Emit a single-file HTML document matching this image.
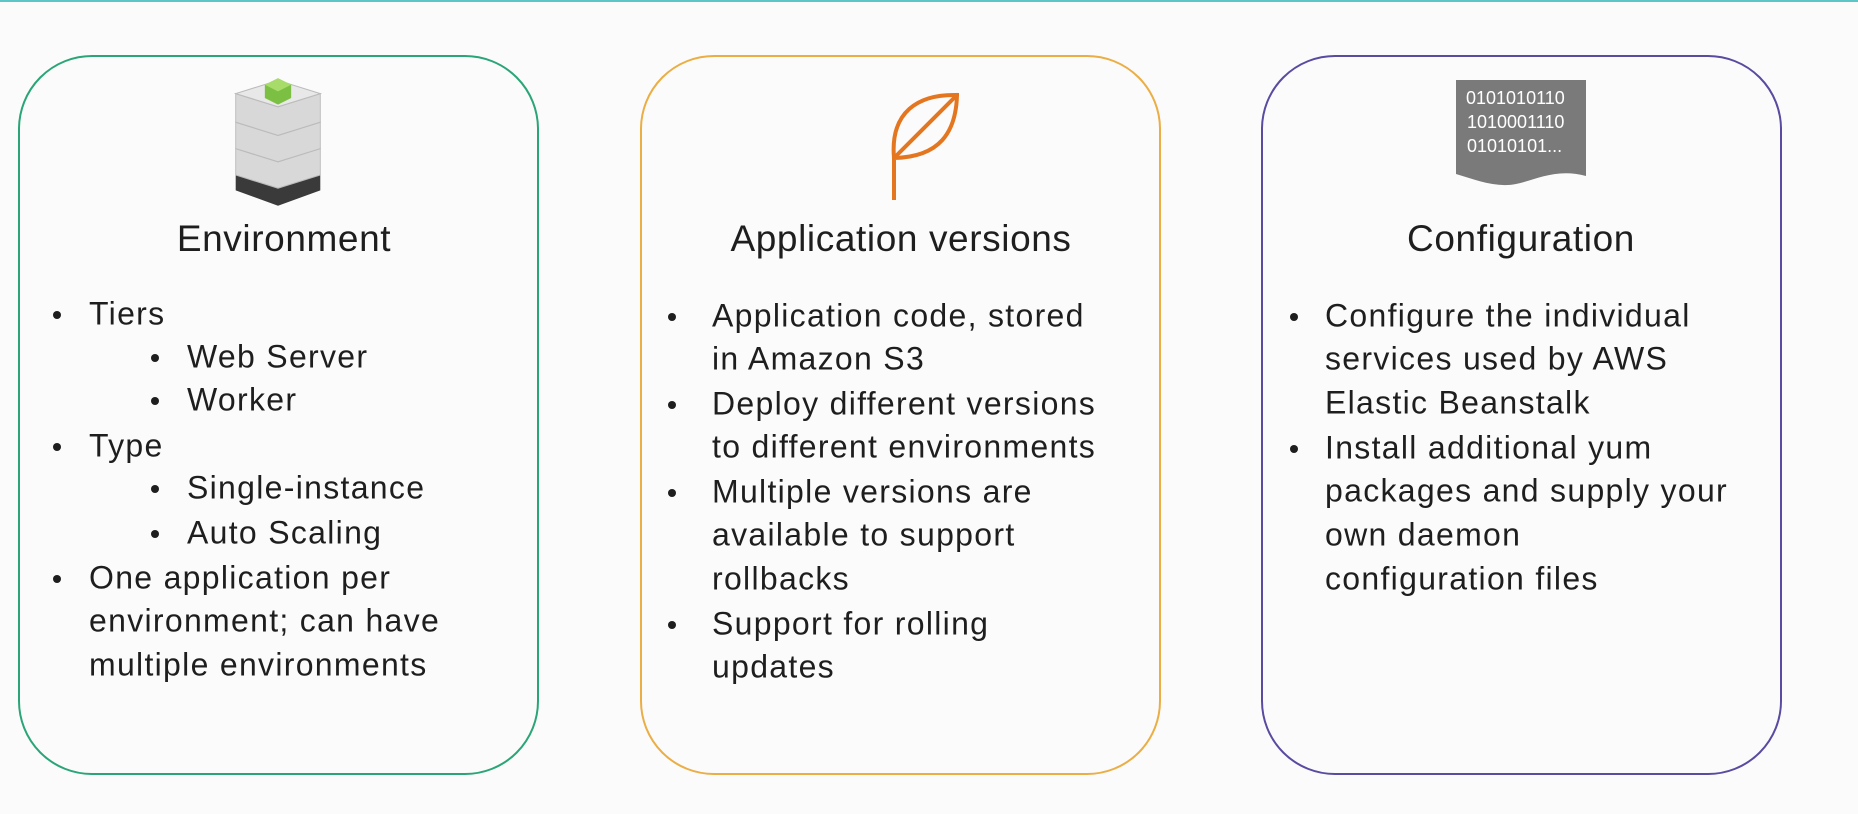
<!DOCTYPE html>
<html><head><meta charset="utf-8"><style>
html,body{margin:0;padding:0;width:1858px;height:814px;background:#fbfbfb;overflow:hidden;font-family:"Liberation Sans","DejaVu Sans",sans-serif;color:#1e1e1e}
.topline{position:absolute;left:0;top:0;width:1858px;height:2px;background:#5cc6c6}
.box{position:absolute;top:55px;width:521px;height:720px;border:2px solid;border-radius:74px;box-sizing:border-box}
.t{position:absolute;font-size:37px;white-space:nowrap;letter-spacing:0.6px;transform:translateY(-50%)}
.b{position:absolute;font-size:32px;white-space:nowrap;letter-spacing:1.3px;transform:translateY(-50%)}
.d{position:absolute;width:8px;height:8px;border-radius:50%;background:#1e1e1e}
</style></head><body>
<div class="topline"></div>
<div class="box" style="left:18px;border-color:#2aa577"></div>
<div class="box" style="left:640px;border-color:#eaae45"></div>
<div class="box" style="left:1261px;border-color:#5a4aa0"></div>

<!-- env icon -->
<svg style="position:absolute;left:231px;top:76px" width="94" height="132" viewBox="0 14 100 120" preserveAspectRatio="none">
<polygon points="5,104 50,92 95,104 95,118 50,132 5,118" fill="#3a3a3a"/>
<polygon points="5,104 50,116 95,104 50,92" fill="#555"/>
<g fill="#d8d8d8" stroke="#bbb">
<polygon points="5,80 50,92 95,80 95,104 50,116 5,104"/>
<polygon points="5,56 50,68 95,56 95,80 50,92 5,80"/>
<polygon points="5,30 50,42 95,30 95,56 50,68 5,56"/>
<polygon points="5,30 50,18 95,30 50,42" fill="#e8e8e8"/>
</g>
<polygon points="36,22 50,16 64,22 64,34 50,40 36,34" fill="#7bc043"/>
<polygon points="36,22 50,28 64,22 50,16" fill="#a8dc6a"/>
</svg>
<div class="t" style="left:284px;top:239px;transform:translate(-50%,-50%)">Environment</div>
<div class="d" style="left:53px;top:311px"></div><div class="b" style="left:89px;top:314px">Tiers</div>
<div class="d" style="left:151px;top:354px"></div><div class="b" style="left:187px;top:357px">Web Server</div>
<div class="d" style="left:151px;top:397px"></div><div class="b" style="left:187px;top:400px">Worker</div>
<div class="d" style="left:53px;top:443px"></div><div class="b" style="left:89px;top:446px">Type</div>
<div class="d" style="left:151px;top:485px"></div><div class="b" style="left:187px;top:488px">Single-instance</div>
<div class="d" style="left:151px;top:530px"></div><div class="b" style="left:187px;top:533px">Auto Scaling</div>
<div class="d" style="left:53px;top:575px"></div><div class="b" style="left:89px;top:578px">One application per</div>
<div class="b" style="left:89px;top:621px">environment; can have</div>
<div class="b" style="left:89px;top:665px">multiple environments</div>

<!-- leaf -->
<svg style="position:absolute;left:880px;top:85px" width="90" height="125" viewBox="880 85 90 125">
<g fill="none" stroke="#e4761f" stroke-width="4" stroke-linecap="round">
<path d="M894 200 L894 158 C890 112 918 94 957 95 C956 132 940 157 894 158 Z"/>
<path d="M894 158 L957 95"/>
</g></svg>
<div class="t" style="left:901px;top:239px;transform:translate(-50%,-50%)">Application versions</div>
<div class="d" style="left:668px;top:313px"></div><div class="b" style="left:712px;top:316px">Application code, stored</div>
<div class="b" style="left:712px;top:359px">in Amazon S3</div>
<div class="d" style="left:668px;top:401px"></div><div class="b" style="left:712px;top:404px">Deploy different versions</div>
<div class="b" style="left:712px;top:447px">to different environments</div>
<div class="d" style="left:668px;top:489px"></div><div class="b" style="left:712px;top:492px">Multiple versions are</div>
<div class="b" style="left:712px;top:535px">available to support</div>
<div class="b" style="left:712px;top:579px">rollbacks</div>
<div class="d" style="left:668px;top:621px"></div><div class="b" style="left:712px;top:624px">Support for rolling</div>
<div class="b" style="left:712px;top:667px">updates</div>

<!-- config doc -->
<svg style="position:absolute;left:1456px;top:80px" width="132" height="112" viewBox="0 0 132 112">
<path d="M0 0 H130 V96 C100 88 80 100 60 104 C40 108 20 100 0 94 Z" fill="#7a7a7a"/>
<g fill="#fff" font-family="Liberation Sans,sans-serif" font-size="18">
<text x="10" y="24">0101010110</text>
<text x="11" y="48">1010001110</text>
<text x="11" y="72">01010101...</text>
</g></svg>
<div class="t" style="left:1521px;top:239px;transform:translate(-50%,-50%)">Configuration</div>
<div class="d" style="left:1290px;top:313px"></div><div class="b" style="left:1325px;top:316px">Configure the individual</div>
<div class="b" style="left:1325px;top:359px">services used by AWS</div>
<div class="b" style="left:1325px;top:403px">Elastic Beanstalk</div>
<div class="d" style="left:1290px;top:445px"></div><div class="b" style="left:1325px;top:448px">Install additional yum</div>
<div class="b" style="left:1325px;top:491px">packages and supply your</div>
<div class="b" style="left:1325px;top:535px">own daemon</div>
<div class="b" style="left:1325px;top:579px">configuration files</div>
</body></html>
